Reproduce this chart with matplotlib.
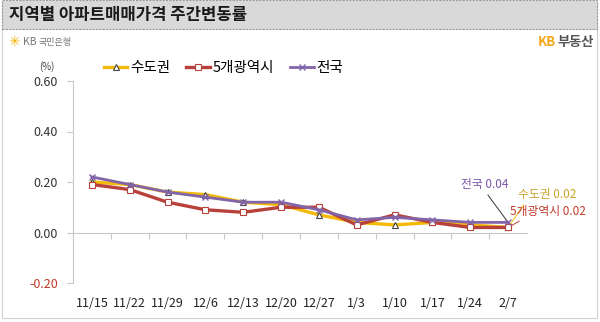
import numpy as np
import matplotlib
matplotlib.use("Agg")
import matplotlib.pyplot as plt
from matplotlib.patches import Rectangle

plt.rcParams['font.family'] = ['Noto Sans CJK KR', 'DejaVu Sans']

# Weekly change of apartment sale prices by region (%)
weeks = ['11/15', '11/22', '11/29', '12/6', '12/13', '12/20', '12/27',
         '1/3', '1/10', '1/17', '1/24', '2/7']
capital = [0.20, 0.19, 0.16, 0.15, 0.12, 0.11, 0.07, 0.04, 0.03, 0.04, 0.03, 0.02]
metro5 = [0.19, 0.17, 0.12, 0.09, 0.08, 0.10, 0.10, 0.03, 0.07, 0.04, 0.02, 0.02]
national = [0.22, 0.19, 0.16, 0.14, 0.12, 0.12, 0.09, 0.05, 0.06, 0.05, 0.04, 0.04]
series_names = ['수도권', '5개광역시', '전국']
y_ticks = [-0.2, 0.0, 0.2, 0.4, 0.6]

c_cap = '#f5b90a'
c_met = '#b8413b'
c_nat = '#8165a8'

W, H = 600, 322
fig = plt.figure(figsize=(W / 100, H / 100), dpi=100)

def fx(px):
    return px / W

def fy(py):
    return 1 - py / H

# outer frame and title band
fig.patches.append(Rectangle((fx(2), fy(318)), fx(595), 315 / H, transform=fig.transFigure,
                             facecolor='none', edgecolor='#d0d0d0', lw=0.8, zorder=-1))
fig.patches.append(Rectangle((fx(2), fy(29)), fx(595), 29 / H, transform=fig.transFigure,
                             facecolor='#d9d9d9', edgecolor='#9a9a9a', lw=0.8,
                             linestyle=(0, (2, 1)), zorder=1))
fig.text(fx(9), fy(15), '지역별 아파트매매가격 주간변동률', fontsize=12, fontweight='bold',
         color='#1a1a1a', va='center', ha='left')

# logos
fig.text(fx(8), fy(42), '✳', fontsize=10, color='#f2b000', va='center', ha='left',
         family=['DejaVu Sans'])
fig.text(fx(23), fy(42), 'KB', fontsize=7.5, color='#777777', va='center', ha='left')
fig.text(fx(39), fy(42), '국민은행', fontsize=6.5, color='#777777', va='center', ha='left')
fig.text(fx(557), fy(42), '부동산', fontsize=9.5, fontweight='bold', color='#555555',
         va='center', ha='left')
fig.text(fx(556), fy(42), 'KB', fontsize=9.5, fontweight='bold', color='#f5a81c',
         va='center', ha='right')

ax = fig.add_axes([fx(73), fy(283), fx(454), 202 / H])
ax.patch.set_alpha(0)
x = np.arange(len(weeks))
ax.plot(x, capital, color=c_cap, lw=2.4, marker='^', ms=5, mfc='white', mec='#444444',
        mew=0.8, label=series_names[0], zorder=3)
ax.plot(x, metro5, color=c_met, lw=2.4, marker='s', ms=4.5, mfc='white', mec=c_met,
        mew=0.8, label=series_names[1], zorder=4)
ax.plot(x, national, color=c_nat, lw=2.0, marker='x', ms=5, mec=c_nat, mew=1.0,
        label=series_names[2], zorder=5)

ax.set_xlim(-0.5, len(weeks) - 0.5)
ax.set_ylim(-0.2, 0.6)
ax.set_yticks(y_ticks)
ax.set_yticklabels([f'{v:.2f}' for v in y_ticks], fontsize=9, color='#333333')
for lbl, v in zip(ax.get_yticklabels(), y_ticks):
    if v < 0:
        lbl.set_color('#c0392b')
ax.tick_params(axis='y', direction='out', length=4, width=0.8, color='#c8c8c8', pad=7)

for s in ['top', 'right']:
    ax.spines[s].set_visible(False)
ax.spines['left'].set_color('#c8c8c8')
ax.spines['bottom'].set_color('#c8c8c8')
ax.spines['bottom'].set_position(('data', 0))
ax.set_xticks(np.arange(0.5, len(weeks) - 0.5, 1))
ax.tick_params(axis='x', direction='out', length=4, width=0.8, color='#c8c8c8',
               labelbottom=False)

sec = ax.secondary_xaxis(0)
sec.set_xticks(x)
sec.set_xticklabels(weeks, fontsize=9, color='#222222')
sec.tick_params(length=0, pad=10)
sec.spines['bottom'].set_visible(False)

fig.text(fx(47), fy(67), '(%)', fontsize=7, color='#444444', ha='center', va='center')

fig.legend(loc='center left', bbox_to_anchor=(fx(104), fy(68)), ncol=3, frameon=False,
           fontsize=10.5, handlelength=1.6, handletextpad=0.2, columnspacing=1.1,
           borderaxespad=0, borderpad=0)

# end-value callouts
last = len(weeks) - 1
ax.annotate(f'전국 {national[-1]:.2f}', xy=(last, national[-1]), xytext=(10.39, 0.19),
            fontsize=8.5, color='#7a55a8', ha='center', va='center', annotation_clip=False,
            arrowprops=dict(arrowstyle='-', color='#333333', lw=0.7, relpos=(0.5, 0),
                            shrinkA=1, shrinkB=1))
ax.annotate(f'수도권 {capital[-1]:.2f}', xy=(last, capital[-1]), xytext=(12.03, 0.152),
            fontsize=8.5, color='#c9a227', ha='center', va='center', annotation_clip=False,
            arrowprops=dict(arrowstyle='-', color=c_cap, lw=0.7, relpos=(0.15, 0),
                            shrinkA=1, shrinkB=1))
ax.annotate(f'5개광역시 {metro5[-1]:.2f}', xy=(last, metro5[-1]), xytext=(12.06, 0.084),
            fontsize=8.5, color='#c0392b', ha='center', va='center', annotation_clip=False,
            arrowprops=dict(arrowstyle='-', color=c_met, lw=0.7, relpos=(0.2, 0),
                            shrinkA=1, shrinkB=1))

fig.savefig('out.png', dpi=100)
